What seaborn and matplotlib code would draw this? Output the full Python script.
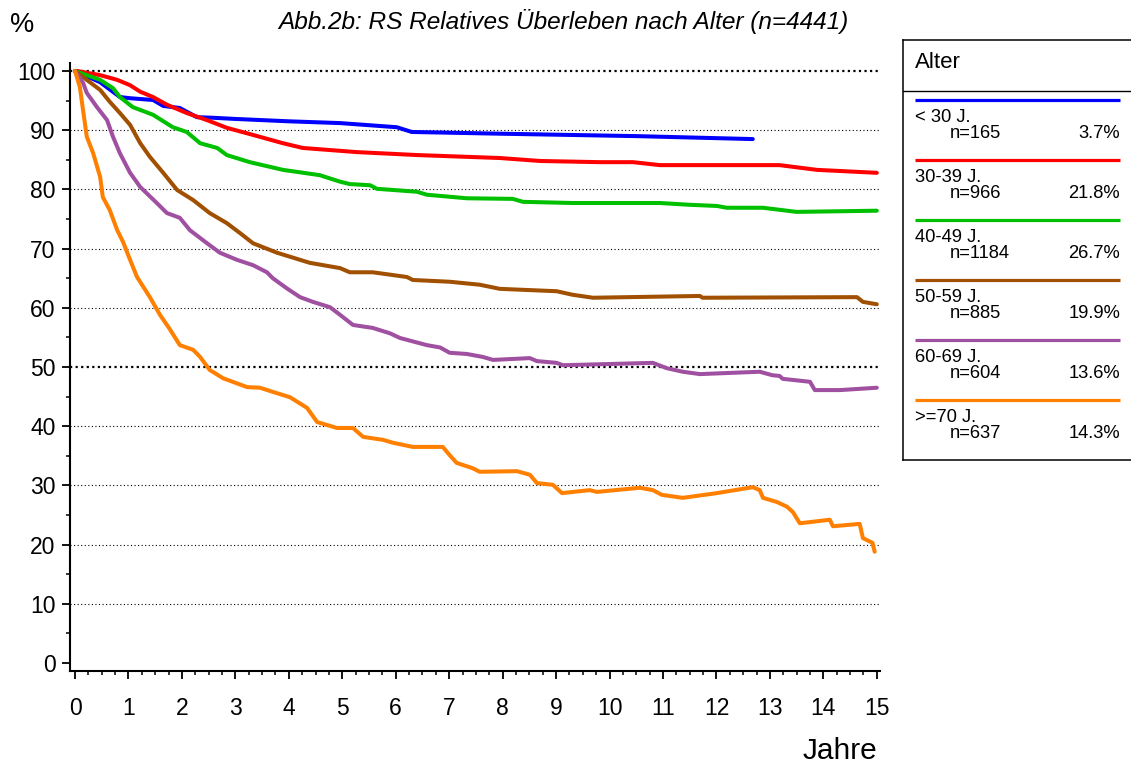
"""Relative survival by age group (RS, n=4441)."""
import matplotlib

matplotlib.use("Agg")
import matplotlib.pyplot as plt  # noqa: E402
import pandas as pd  # noqa: E402
import seaborn as sns  # noqa: E402
from matplotlib.ticker import MultipleLocator  # noqa: E402

# --- data ------------------------------------------------------------------
groups = ["< 30 J.", "30-39 J.", "40-49 J.", "50-59 J.", "60-69 J.", ">=70 J."]
n_cases = [165, 966, 1184, 885, 604, 637]
shares = ["3.7%", "21.8%", "26.7%", "19.9%", "13.6%", "14.3%"]
colors = ["#0000ff", "#ff0000", "#00c000", "#a05000", "#a050a0", "#ff8000"]

t_u30 = [0, 0.47, 0.84, 1.03, 1.46, 1.65, 1.96, 2.28, 2.58, 3.0, 4.0, 4.96,
         6.02, 6.30, 8.0, 10.5, 12.68]
s_u30 = [100, 98.1, 95.6, 95.4, 95.1, 94.1, 93.75, 92.2, 92.1, 91.9, 91.5, 91.2,
         90.5, 89.7, 89.4, 89.0, 88.5]

t_30 = [0, 0.04, 0.47, 0.79, 1.03, 1.22, 1.46, 1.72, 2.09, 2.47, 2.84, 3.33,
        3.89, 4.26, 5.27, 6.40, 7.95, 8.70, 9.82, 10.44, 10.94, 13.18, 13.88, 15.0]
s_30 = [100, 100, 99.3, 98.5, 97.6, 96.5, 95.6, 94.3, 92.9, 91.7, 90.4, 89.2,
        87.8, 87.0, 86.3, 85.8, 85.3, 84.8, 84.6, 84.6, 84.1, 84.1, 83.3, 82.8]

t_40 = [0, 0.47, 0.71, 0.84, 1.08, 1.46, 1.83, 2.09, 2.34, 2.66, 2.84, 3.27,
        3.89, 4.58, 4.96, 5.14, 5.52, 5.65, 6.40, 6.58, 7.33, 8.19, 8.38, 9.31,
        10.94, 11.50, 12.01, 12.19, 12.87, 13.50, 15.0]
s_40 = [100, 98.5, 97.1, 95.6, 93.9, 92.6, 90.5, 89.7, 87.8, 87.0, 85.8, 84.6,
        83.3, 82.4, 81.3, 80.9, 80.7, 80.1, 79.6, 79.1, 78.5, 78.4, 77.9, 77.7,
        77.7, 77.4, 77.2, 76.9, 76.9, 76.2, 76.4]

t_50 = [0, 0.22, 0.47, 0.65, 0.84, 1.03, 1.22, 1.40, 1.65, 1.91, 2.21, 2.52,
        2.84, 3.09, 3.33, 3.78, 4.39, 4.96, 5.14, 5.57, 6.21, 6.32, 7.01, 7.57,
        7.95, 9.01, 9.31, 9.69, 11.69, 11.74, 14.63, 14.74, 15.0]
s_50 = [100, 98.5, 96.8, 94.8, 92.9, 90.9, 87.8, 85.5, 82.8, 79.9, 78.2, 76.0,
        74.3, 72.6, 70.9, 69.3, 67.6, 66.7, 66.0, 66.0, 65.2, 64.7, 64.4, 63.9,
        63.2, 62.8, 62.2, 61.7, 62.0, 61.7, 61.8, 61.0, 60.6]

t_60 = [0, 0.15, 0.22, 0.41, 0.60, 0.71, 0.84, 1.03, 1.22, 1.53, 1.72, 1.96,
        2.15, 2.47, 2.71, 3.03, 3.33, 3.59, 3.70, 3.96, 4.21, 4.45, 4.77, 4.96,
        5.20, 5.57, 5.89, 6.08, 6.58, 6.83, 7.01, 7.33, 7.63, 7.82, 8.51, 8.64,
        9.01, 9.13, 10.81, 11.07, 11.37, 11.69, 12.81, 13.05, 13.18, 13.24,
        13.75, 13.84, 14.31, 15.0]
s_60 = [100, 98.0, 96.3, 93.9, 91.7, 88.9, 86.1, 82.8, 80.4, 77.7, 76.0, 75.2,
        73.1, 70.9, 69.3, 68.1, 67.2, 66.0, 65.0, 63.3, 61.8, 61.0, 60.1, 58.8,
        57.1, 56.6, 55.7, 54.9, 53.7, 53.3, 52.4, 52.2, 51.7, 51.2, 51.5, 51.0,
        50.7, 50.3, 50.7, 49.8, 49.2, 48.8, 49.2, 48.6, 48.5, 48.0,
        47.5, 46.1, 46.1, 46.5]

t_70 = [0, 0.09, 0.15, 0.22, 0.34, 0.47, 0.52, 0.65, 0.79, 0.90, 1.03, 1.16,
        1.40, 1.59, 1.78, 1.96, 2.21, 2.34, 2.52, 2.77, 2.95, 3.22, 3.46, 3.70,
        4.02, 4.34, 4.53, 4.90, 5.20, 5.39, 5.76, 5.95, 6.32, 6.88, 7.01, 7.14,
        7.44, 7.57, 8.27, 8.51, 8.64, 8.94, 9.11, 9.63, 9.76, 10.57, 10.81,
        10.98, 11.37, 12.01, 12.68, 12.81, 12.87, 13.13, 13.32, 13.43, 13.56,
        14.12, 14.18, 14.68, 14.74, 14.92, 14.96]
s_70 = [100, 97.3, 93.4, 88.9, 86.1, 82.1, 78.7, 76.5, 73.1, 71.1, 68.1, 65.2,
        61.8, 58.8, 56.3, 53.7, 52.9, 51.7, 49.5, 48.1, 47.5, 46.6, 46.5, 45.8,
        44.9, 43.1, 40.7, 39.7, 39.7, 38.2, 37.7, 37.2, 36.5, 36.5, 35.1, 33.8,
        32.9, 32.3, 32.4, 31.8, 30.4, 30.1, 28.7, 29.2, 28.9, 29.6, 29.2,
        28.4, 27.9, 28.7, 29.7, 29.2, 27.9, 27.2, 26.4, 25.5, 23.6,
        24.2, 23.1, 23.5, 21.1, 20.3, 18.8]

times = [t_u30, t_30, t_40, t_50, t_60, t_70]
survival = [s_u30, s_30, s_40, s_50, s_60, s_70]
grid_levels = [10, 20, 30, 40, 50, 60, 70, 80, 90, 100]
bold_levels = [50, 100]

df = pd.concat(
    [pd.DataFrame({"group": g, "jahre": t, "rs": s})
     for g, t, s in zip(groups, times, survival)],
    ignore_index=True,
)

# --- style ------------------------------------------------------------------
sns.set_style("white")
plt.rcParams["font.family"] = ["Liberation Sans", "DejaVu Sans"]
for key in ["text.color", "axes.labelcolor", "xtick.color", "ytick.color",
            "xtick.labelcolor", "ytick.labelcolor"]:
    plt.rcParams[key] = "black"

fig = plt.figure(figsize=(11.31, 7.67), dpi=100)
ax = fig.add_axes([70 / 1131, 96 / 767, 810 / 1131, 608 / 767])

for lvl in grid_levels:
    bold = lvl in bold_levels
    ax.axhline(lvl, color="black", lw=1.6 if bold else 0.8,
               ls=(0, (1, 1.5)) if bold else (0, (1, 2.2)), zorder=1)

sns.lineplot(data=df, x="jahre", y="rs", hue="group", hue_order=groups,
             palette=dict(zip(groups, colors)), estimator=None, sort=False,
             lw=2.9, legend=False, ax=ax, zorder=3)

ax.set_xlim(-0.094, 15.06)
ax.set_ylim(-1.35, 101.35)
ax.xaxis.set_major_locator(MultipleLocator(1))
ax.xaxis.set_minor_locator(MultipleLocator(0.25))
ax.yaxis.set_major_locator(MultipleLocator(10))
ax.yaxis.set_minor_locator(MultipleLocator(5))
ax.tick_params(which="major", direction="out", length=5.5, width=1.3,
               labelsize=16.5, color="black", labelcolor="black",
               bottom=True, left=True)
ax.tick_params(which="minor", direction="out", length=3, width=1.1,
               color="black", bottom=True, left=True)
ax.tick_params(axis="x", which="major", pad=13)
ax.tick_params(axis="y", which="major", pad=5)
ax.set_xlabel("")
ax.set_ylabel("")
for side in ["top", "right"]:
    ax.spines[side].set_visible(False)
for side in ["left", "bottom"]:
    ax.spines[side].set_color("black")
    ax.spines[side].set_linewidth(1.5)

fig.text(22 / 1131, 1 - 25 / 767, "%", fontsize=19.5, ha="center", va="center")
fig.text(563 / 1131, 1 - 22 / 767,
         "Abb.2b: RS Relatives Überleben nach Alter (n=4441)",
         fontsize=17.6, style="italic", ha="center", va="center")
fig.text(840 / 1131, 1 - 751 / 767, "Jahre", fontsize=21.5,
         ha="center", va="center")

# --- legend box ---------------------------------------------------------------
lax = fig.add_axes([903 / 1131, 307 / 767, 228 / 1131, 420 / 767])
lax.set_xlim(0, 228)
lax.set_ylim(420, 0)
lax.set_xticks([])
lax.set_yticks([])
lax.set_facecolor("white")
for side, sp in lax.spines.items():
    sp.set_color("black")
    sp.set_linewidth(1.1)
lax.spines["right"].set_visible(False)
lax.text(12, 22, "Alter", fontsize=16, va="center", ha="left")
lax.axhline(51, color="black", lw=1)
for i, (g, n, p, c) in enumerate(zip(groups, n_cases, shares, colors)):
    y0 = 60 + 60 * i
    lax.plot([12, 217], [y0, y0], color=c, lw=2.3, solid_capstyle="butt")
    lax.text(12, y0 + 18, g, fontsize=13.2, va="center", ha="left")
    lax.text(47, y0 + 34, f"n={n}", fontsize=13.2, va="center", ha="left")
    lax.text(217, y0 + 34, p, fontsize=13.2, va="center", ha="right")

fig.savefig("out.png", dpi=100)
